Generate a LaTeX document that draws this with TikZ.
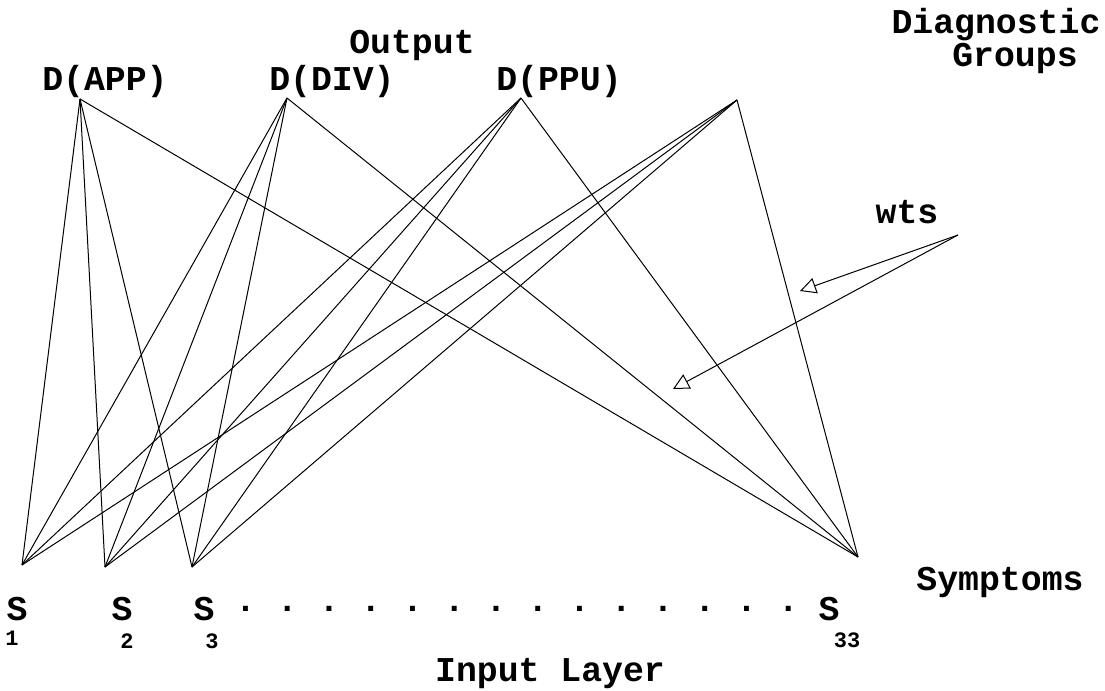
\documentclass[tikz,border=0pt]{standalone}
\usepackage{fontspec}
\setmonofont{Liberation Mono}
\usetikzlibrary{arrows.meta}

\begin{document}
\begin{tikzpicture}[x=0.5pt, y=-0.5pt]
    % Define basic styles
    \tikzset{
        lbl/.style={
            inner sep=0pt,
            font=\fontsize{17.4}{20}\selectfont\ttfamily\bfseries
        },
        sub/.style={
            inner sep=0pt,
            font=\fontsize{11}{13}\selectfont\ttfamily\bfseries
        },
        wt/.style={line width=0.5pt},
        pointer/.style={
            line width=0.5pt,
            -{Triangle[open, length=8pt, width=8pt]}
        }
    }

    \useasboundingbox (0,0) rectangle (1105,691);

    % Output layer (diagnostic groups)
    \coordinate (app) at (80,99);
    \coordinate (div) at (287,98);
    \coordinate (ppu) at (521,98);
    \coordinate (grp) at (737,100);

    % Input layer (symptoms)
    \coordinate (s1) at (22,565);
    \coordinate (s2) at (105,567);
    \coordinate (s3) at (192,567);
    \coordinate (s33) at (858,557);

    % Labels of the output layer
    \node[lbl] (output) at (412,45) {Output};
    \node[lbl] (dapp) at (105,82) {D(APP)};
    \node[lbl] (ddiv) at (332,82) {D(DIV)};
    \node[lbl] (dppu) at (559,82) {D(PPU)};
    \node[lbl] (diag) at (996,25) {Diagnostic};
    \node[lbl] (groups) at (1015,58) {Groups};

    % Labels of the input layer
    \node[lbl] (symp) at (1000,582) {Symptoms};
    \node[lbl] (l1) at (17,609) {S};
    \node[lbl] (l2) at (122,609) {S};
    \node[lbl] (l3) at (204,609) {S};
    \node[lbl] (dots) at (517,609) {. . . . . . . . . . . . . .};
    \node[lbl] (l33) at (829,609) {S};
    \node[sub] (n1) at (12,638) {1};
    \node[sub] (n2) at (127,641) {2};
    \node[sub] (n3) at (212,641) {3};
    \node[sub] (n33) at (847,640) {33};
    \node[lbl] (input) at (550,674) {Input Layer};

    % Weights from D(APP)
    \draw[wt] (app) -- (s1);
    \draw[wt] (app) -- (s2);
    \draw[wt] (app) -- (s3);
    \draw[wt] (app) -- (s33);

    % Weights from D(DIV)
    \draw[wt] (div) -- (s1);
    \draw[wt] (div) -- (s2);
    \draw[wt] (div) -- (s3);
    \draw[wt] (div) -- (s33);

    % Weights from D(PPU)
    \draw[wt] (ppu) -- (s1);
    \draw[wt] (ppu) -- (s2);
    \draw[wt] (ppu) -- (s3);
    \draw[wt] (ppu) -- (s33);

    % Weights from the last group
    \draw[wt] (grp) -- (s1);
    \draw[wt] (grp) -- (s2);
    \draw[wt] (grp) -- (s3);
    \draw[wt] (grp) -- (s33);

    % Weight pointers
    \node[lbl] (wts) at (907,212) {wts};
    \coordinate (wsrc) at (958,235);
    \coordinate (wtip1) at (800,291);
    \coordinate (wtip2) at (673,389);
    \draw[pointer] (wsrc) -- (wtip1);
    \draw[pointer] (wsrc) -- (wtip2);
\end{tikzpicture}
\end{document}
